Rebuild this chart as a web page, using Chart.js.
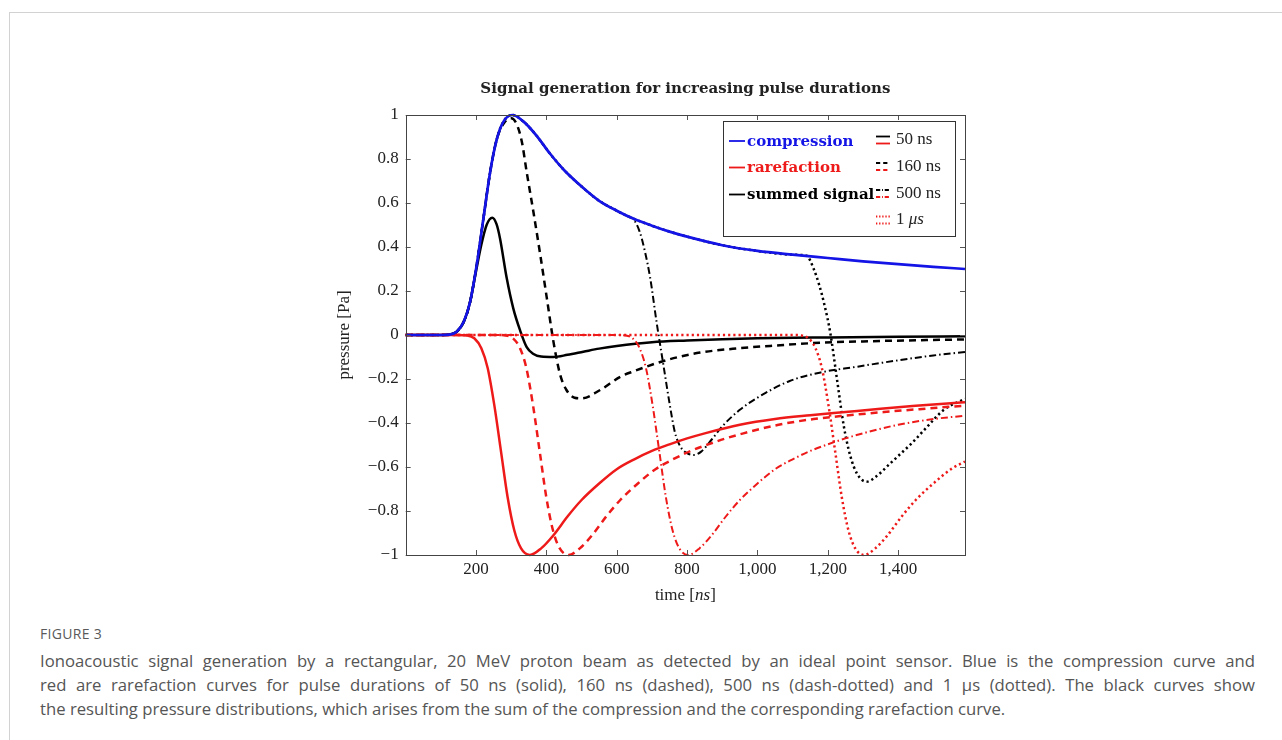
<!DOCTYPE html>
<html>
<head>
<meta charset="utf-8">
<title>Signal generation for increasing pulse durations</title>
<script src="https://cdn.jsdelivr.net/npm/chart.js@4.4.1/dist/chart.umd.min.js"></script>
<style>
  html, body { margin: 0; padding: 0; background: #fff; overflow: hidden; }
  body { width: 1282px; height: 740px; position: relative; }
  #frame { position: absolute; left: 9px; top: 12px; width: 1300px; height: 780px; border: 1px solid #d2d2d2; }
  #plot { position: absolute; left: 320px; top: 70px; width: 660px; height: 540px; }
  #figlabel { position: absolute; left: 40px; top: 624px; font: 14px "Open Sans", sans-serif; color: #5a5a5a; letter-spacing: 0.3px; }
  #caption { position: absolute; left: 40px; top: 649px; width: 1215px; font: 16.7px/24px "Open Sans", sans-serif; color: #555; }
  #caption .j { text-align: justify; text-align-last: justify; white-space: nowrap; }
</style>
</head>
<body>
<div id="frame"></div>
<div id="plot"><canvas id="chart" width="660" height="540"></canvas></div>
<div id="figlabel">FIGURE 3</div>
<div id="caption">
  <div class="j">Ionoacoustic signal generation by a rectangular, 20 MeV proton beam as detected by an ideal point sensor. Blue is the compression curve and</div>
  <div class="j">red are rarefaction curves for pulse durations of 50 ns (solid), 160 ns (dashed), 500 ns (dash-dotted) and 1 μs (dotted). The black curves show</div>
  <div>the resulting pressure distributions, which arises from the sum of the compression and the corresponding rarefaction curve.</div>
</div>
<script>
// axis ticks
const xTicks = [200, 400, 600, 800, 1000, 1200, 1400];
const yTicks = [-1, -0.8, -0.6, -0.4, -0.2, 0, 0.2, 0.4, 0.6, 0.8, 1];

const chartTitle = "Signal generation for increasing pulse durations";
const curveLabels = ["compression", "rarefaction", "summed signal"];
const pulseLabels = ["50", "160", "500", "1"];

// compression (blue)
const compT = [0, 100, 125, 145, 165, 183, 202, 221, 240, 259, 278, 303, 335, 370, 410, 450, 500, 550, 600, 650, 700, 750, 800, 900, 1000, 1100, 1200, 1300, 1400, 1500, 1590];
const compP = [0, 0, 0.002, 0.015, 0.06, 0.15, 0.32, 0.53, 0.74, 0.89, 0.97, 1.0, 0.97, 0.91, 0.825, 0.75, 0.675, 0.61, 0.565, 0.527, 0.497, 0.47, 0.447, 0.408, 0.382, 0.365, 0.35, 0.335, 0.322, 0.31, 0.30];

// rarefaction (red), one per pulse duration
const rare50T = [0, 150, 175, 195, 215, 233, 252, 271, 290, 309, 328, 353, 385, 420, 460, 500, 550, 600, 650, 700, 750, 800, 850, 950, 1050, 1150, 1250, 1350, 1450, 1550, 1590];
const rare50P = [0, 0, -0.002, -0.015, -0.06, -0.15, -0.32, -0.53, -0.74, -0.89, -0.97, -1.0, -0.97, -0.91, -0.825, -0.75, -0.675, -0.61, -0.565, -0.527, -0.497, -0.47, -0.447, -0.408, -0.382, -0.365, -0.35, -0.335, -0.322, -0.31, -0.306];

const rare160T = [0, 260, 285, 305, 325, 343, 362, 381, 400, 419, 438, 463, 495, 530, 570, 610, 660, 710, 760, 810, 860, 910, 960, 1060, 1160, 1260, 1360, 1460, 1560, 1590];
const rare160P = [0, 0, -0.002, -0.015, -0.06, -0.15, -0.32, -0.53, -0.74, -0.89, -0.97, -1.0, -0.97, -0.91, -0.825, -0.75, -0.675, -0.61, -0.565, -0.527, -0.497, -0.47, -0.447, -0.408, -0.382, -0.365, -0.35, -0.337, -0.325, -0.322];

const rare500T = [0, 600, 625, 645, 665, 683, 702, 721, 740, 759, 778, 803, 835, 870, 910, 950, 1000, 1050, 1100, 1150, 1200, 1250, 1300, 1400, 1500, 1590];
const rare500P = [0, 0, -0.002, -0.015, -0.06, -0.15, -0.32, -0.53, -0.74, -0.89, -0.97, -1.0, -0.97, -0.91, -0.825, -0.75, -0.675, -0.61, -0.565, -0.527, -0.497, -0.47, -0.447, -0.408, -0.382, -0.367];

const rare1000T = [0, 1100, 1125, 1145, 1165, 1183, 1202, 1221, 1240, 1259, 1278, 1303, 1335, 1370, 1410, 1450, 1500, 1550, 1590];
const rare1000P = [0, 0, -0.002, -0.015, -0.06, -0.15, -0.32, -0.53, -0.74, -0.89, -0.97, -1.0, -0.97, -0.91, -0.825, -0.75, -0.675, -0.61, -0.575];

// summed signal (black)
const sum50T = [0, 100, 125, 145, 165, 183, 200, 215, 230, 246, 258, 268, 287, 306, 325, 344, 362, 385, 420, 460, 505, 550, 600, 700, 800, 900, 1000, 1200, 1400, 1590];
const sum50P = [0, 0, 0.002, 0.015, 0.06, 0.15, 0.29, 0.41, 0.5, 0.533, 0.505, 0.44, 0.26, 0.12, 0.022, -0.055, -0.085, -0.098, -0.1, -0.09, -0.076, -0.062, -0.05, -0.033, -0.025, -0.019, -0.015, -0.011, -0.008, -0.006];

const sum160T = [0, 100, 125, 145, 165, 183, 202, 221, 240, 259, 280, 300, 315, 330, 344, 363, 382, 401, 420, 439, 457, 480, 500, 553, 610, 648, 742, 837, 950, 1050, 1180, 1300, 1450, 1590];
const sum160P = [0, 0, 0.002, 0.015, 0.06, 0.15, 0.32, 0.53, 0.74, 0.89, 0.965, 0.985, 0.96, 0.88, 0.74, 0.56, 0.37, 0.17, -0.03, -0.18, -0.25, -0.285, -0.288, -0.25, -0.19, -0.165, -0.114, -0.08, -0.06, -0.048, -0.035, -0.029, -0.024, -0.02];

const sum500T = [0, 100, 125, 145, 165, 183, 202, 221, 240, 259, 278, 303, 335, 370, 410, 450, 500, 550, 600, 630, 648, 665, 680, 695, 714, 733, 750, 765, 780, 800, 820, 840, 870, 900, 950, 1000, 1090, 1180, 1280, 1400, 1500, 1590];
const sum500P = [0, 0, 0.002, 0.015, 0.06, 0.15, 0.32, 0.53, 0.74, 0.89, 0.97, 1.0, 0.97, 0.91, 0.825, 0.75, 0.675, 0.61, 0.565, 0.54, 0.525, 0.47, 0.38, 0.26, 0.05, -0.14, -0.31, -0.44, -0.505, -0.537, -0.545, -0.53, -0.475, -0.415, -0.34, -0.285, -0.21, -0.17, -0.145, -0.115, -0.093, -0.077];

const sum1000T = [0, 100, 125, 145, 165, 183, 202, 221, 240, 259, 278, 303, 335, 370, 410, 450, 500, 550, 600, 650, 700, 750, 800, 900, 1000, 1100, 1140, 1160, 1175, 1190, 1207, 1226, 1245, 1264, 1283, 1310, 1340, 1370, 1400, 1440, 1475, 1530, 1590];
const sum1000P = [0, 0, 0.002, 0.015, 0.06, 0.15, 0.32, 0.53, 0.74, 0.89, 0.97, 1.0, 0.97, 0.91, 0.825, 0.75, 0.675, 0.61, 0.565, 0.527, 0.497, 0.47, 0.447, 0.408, 0.382, 0.365, 0.36, 0.3, 0.23, 0.14, 0.01, -0.2, -0.41, -0.55, -0.63, -0.667, -0.64, -0.595, -0.55, -0.49, -0.43, -0.34, -0.29];

const BLUE = "#1414e6";
const RED = "#ee1a1a";
const BLACK = "#000000";
const DASH = { solid: [], dashed: [7, 5], dashdot: [7, 3, 1.5, 3], dotted: [2.2, 3] };
const STYLE_ORDER = ["solid", "dashed", "dashdot", "dotted"];

const SERIF = '"Liberation Serif", "Times New Roman", serif';
const BOLD_SERIF = '"DejaVu Serif", serif';

function pts(t, p) {
  return t.map((v, i) => ({ x: v, y: p[i] }));
}

function line(label, t, p, color, style, width) {
  return {
    label: label,
    data: pts(t, p),
    borderColor: color,
    borderWidth: width,
    borderDash: DASH[style],
    pointRadius: 0,
    cubicInterpolationMode: "monotone",
    fill: false,
    clip: false,
  };
}

// frame + inward tick marks like pgfplots
const frameTicks = {
  id: "frameTicks",
  afterDatasetsDraw(chart) {
    const { ctx, chartArea: a, scales } = chart;
    ctx.save();
    ctx.strokeStyle = "#555";
    ctx.lineWidth = 1;
    ctx.setLineDash([]);
    ctx.beginPath();
    xTicks.forEach((v) => {
      const x = Math.round(scales.x.getPixelForValue(v)) + 0.5;
      ctx.moveTo(x, a.bottom); ctx.lineTo(x, a.bottom - 5);
      ctx.moveTo(x, a.top); ctx.lineTo(x, a.top + 5);
    });
    yTicks.forEach((v) => {
      const y = Math.round(scales.y.getPixelForValue(v)) + 0.5;
      ctx.moveTo(a.left, y); ctx.lineTo(a.left + 5, y);
      ctx.moveTo(a.right, y); ctx.lineTo(a.right - 5, y);
    });
    ctx.stroke();
    ctx.strokeStyle = "#444";
    ctx.strokeRect(Math.round(a.left) + 0.5, Math.round(a.top) + 0.5, Math.round(a.right - a.left), Math.round(a.bottom - a.top));
    ctx.restore();
  },
};

// mixed upright / italic text helper
function drawRuns(ctx, runs, cx, cy) {
  let w = 0;
  runs.forEach((r) => { ctx.font = r[1]; w += ctx.measureText(r[0]).width; });
  let x = cx - w / 2;
  runs.forEach((r) => {
    ctx.font = r[1];
    ctx.fillText(r[0], x, cy);
    x += ctx.measureText(r[0]).width;
  });
}

const axisTitles = {
  id: "axisTitles",
  afterDraw(chart) {
    const { ctx, chartArea: a } = chart;
    ctx.save();
    ctx.fillStyle = "#222";
    ctx.textBaseline = "middle";
    ctx.textAlign = "left";
    drawRuns(ctx, [[chartTitle, "bold 15px " + BOLD_SERIF]], (a.left + a.right) / 2, 19);
    const reg = "17px " + SERIF;
    const ital = "italic 17px " + SERIF;
    drawRuns(ctx, [["time [", reg], ["ns", ital], ["]", reg]], (a.left + a.right) / 2, a.bottom + 41);
    ctx.translate(25, (a.top + a.bottom) / 2);
    ctx.rotate(-Math.PI / 2);
    drawRuns(ctx, [["pressure [Pa]", reg]], 0, 0);
    ctx.restore();
  },
};

const pgfLegend = {
  id: "pgfLegend",
  afterDraw(chart) {
    const { ctx, chartArea: a } = chart;
    const x0 = a.right - 242, y0 = a.top + 6, w = 232, h = 115;
    ctx.save();
    ctx.fillStyle = "#fff";
    ctx.fillRect(x0, y0, w, h);
    ctx.strokeStyle = "#333";
    ctx.lineWidth = 1;
    ctx.strokeRect(Math.round(x0) + 0.5, Math.round(y0) + 0.5, w, h);

    const rowsY = [y0 + 20, y0 + 46.5, y0 + 73.5, y0 + 100];
    const colors = [BLUE, RED, BLACK];
    ctx.textBaseline = "middle";
    ctx.textAlign = "left";
    curveLabels.forEach((lab, i) => {
      ctx.strokeStyle = colors[i];
      ctx.lineWidth = 1.8;
      ctx.setLineDash([]);
      ctx.beginPath();
      ctx.moveTo(x0 + 6, rowsY[i]);
      ctx.lineTo(x0 + 22, rowsY[i]);
      ctx.stroke();
      ctx.fillStyle = colors[i];
      ctx.font = "bold 15px " + BOLD_SERIF;
      ctx.fillText(lab, x0 + 24, rowsY[i] + 1);
    });

    const sx = x0 + 153;
    pulseLabels.forEach((lab, i) => {
      const style = STYLE_ORDER[i];
      const pair = i === 3 ? [[RED, -3.5], [RED, 3.5]] : [[BLACK, -3.5], [RED, 3.5]];
      pair.forEach(([c, dy]) => {
        ctx.strokeStyle = c;
        ctx.lineWidth = 1.8;
        ctx.setLineDash(DASH[style].map((d) => d * 0.6));
        ctx.beginPath();
        const yy = rowsY[i] + dy - 1;
        ctx.moveTo(sx, yy);
        ctx.lineTo(sx + 14, yy);
        ctx.stroke();
      });
      ctx.setLineDash([]);
      ctx.fillStyle = "#222";
      const reg = "17px " + SERIF;
      ctx.font = reg;
      const tx = x0 + 173;
      const unit = i === 3 ? "μs" : "ns";
      ctx.fillText(lab + " ", tx, rowsY[i] - 1);
      const w1 = ctx.measureText(lab + " ").width;
      ctx.font = (i === 3 ? "italic " : "") + reg;
      ctx.fillText(unit, tx + w1, rowsY[i] - 1);
    });
    ctx.restore();
  },
};

const datasets = [
  line("compression", compT, compP, BLUE, "solid", 2.7),
  line("rarefaction 50 ns", rare50T, rare50P, RED, "solid", 2.5),
  line("rarefaction 160 ns", rare160T, rare160P, RED, "dashed", 2.5),
  line("rarefaction 500 ns", rare500T, rare500P, RED, "dashdot", 2.0),
  line("rarefaction 1 μs", rare1000T, rare1000P, RED, "dotted", 2.5),
  line("summed 50 ns", sum50T, sum50P, BLACK, "solid", 2.5),
  line("summed 160 ns", sum160T, sum160P, BLACK, "dashed", 2.5),
  line("summed 500 ns", sum500T, sum500P, BLACK, "dashdot", 2.0),
  line("summed 1 μs", sum1000T, sum1000P, BLACK, "dotted", 2.5),
];

Chart.defaults.font.family = SERIF;
Chart.defaults.color = "#222";

new Chart(document.getElementById("chart"), {
  type: "line",
  data: { datasets: datasets },
  options: {
    responsive: false,
    animation: false,
    layout: { padding: { left: 15, right: 15, top: 45, bottom: 0 } },
    plugins: {
      legend: { display: false },
      tooltip: { enabled: false },
      title: { display: false },
    },
    scales: {
      x: {
        type: "linear",
        min: 0,
        max: 1590,
        afterBuildTicks: (s) => { s.ticks = xTicks.map((v) => ({ value: v })); },
        afterFit: (s) => { s.height = 55; },
        grid: { display: false, drawTicks: false },
        border: { display: false },
        ticks: {
          padding: 4.5,
          maxRotation: 0,
          font: { size: 17 },
          color: "#222",
          callback: (v) => v.toLocaleString("en-US"),
        },
      },
      y: {
        type: "linear",
        min: -1,
        max: 1,
        afterBuildTicks: (s) => { s.ticks = yTicks.map((v) => ({ value: v })); },
        afterFit: (s) => { s.width = 70.7; },
        grid: { display: false, drawTicks: false },
        border: { display: false },
        ticks: {
          padding: 7,
          font: { size: 17 },
          color: "#222",
          callback: (v) => (v < 0 ? "\u2212" : "") + String(Math.abs(v)),
        },
      },
    },
  },
  plugins: [frameTicks, axisTitles, pgfLegend],
});
</script>
</body>
</html>
